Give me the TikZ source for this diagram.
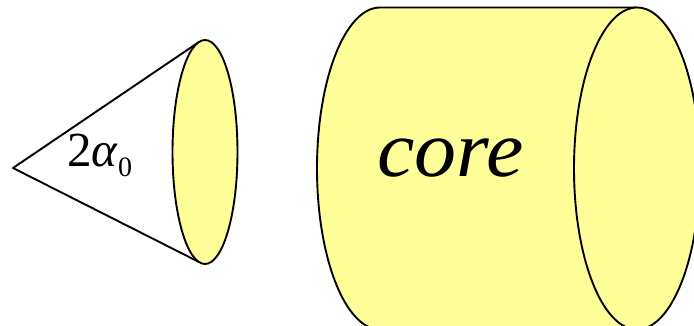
\documentclass[tikz,border=0pt]{standalone}
\usepackage{fontspec}
\setmainfont{Liberation Serif}
\definecolor{coreyellow}{HTML}{FFFF99}
\tikzset{
  outline/.style={draw=black,line width=1.9pt,line join=round},
  body/.style={outline,fill=coreyellow},
  label/.style={inner sep=0pt,anchor=base west,text=black}
}
\begin{document}
\begin{tikzpicture}[x=1pt,y=-1pt]
\useasboundingbox (0,0) rectangle (694,326);
\clip (0,0) rectangle (694,326);
% cone
\draw[outline] (199,42) -- (13,168) -- (199,262);
\draw[body] (205,152) ellipse [x radius=32.5,y radius=112];
% cylinder
\draw[body] (637,7.5) -- (380,7.5) arc [start angle=270,end angle=90,x radius=63,y radius=161] -- (637,329.5);
\draw[body] (637,168.5) ellipse [x radius=63,y radius=161];
% labels
\node[label,font=\fontsize{49}{49}\selectfont] (angle) at (67,167) {2\textit{α}\raisebox{-10pt}{\fontsize{28}{28}\selectfont 0}};
\node[label,font=\fontsize{80}{80}\selectfont\itshape] (core) at (377,176.5) {\scalebox{1.05}[1]{core}};
\end{tikzpicture}
\end{document}
